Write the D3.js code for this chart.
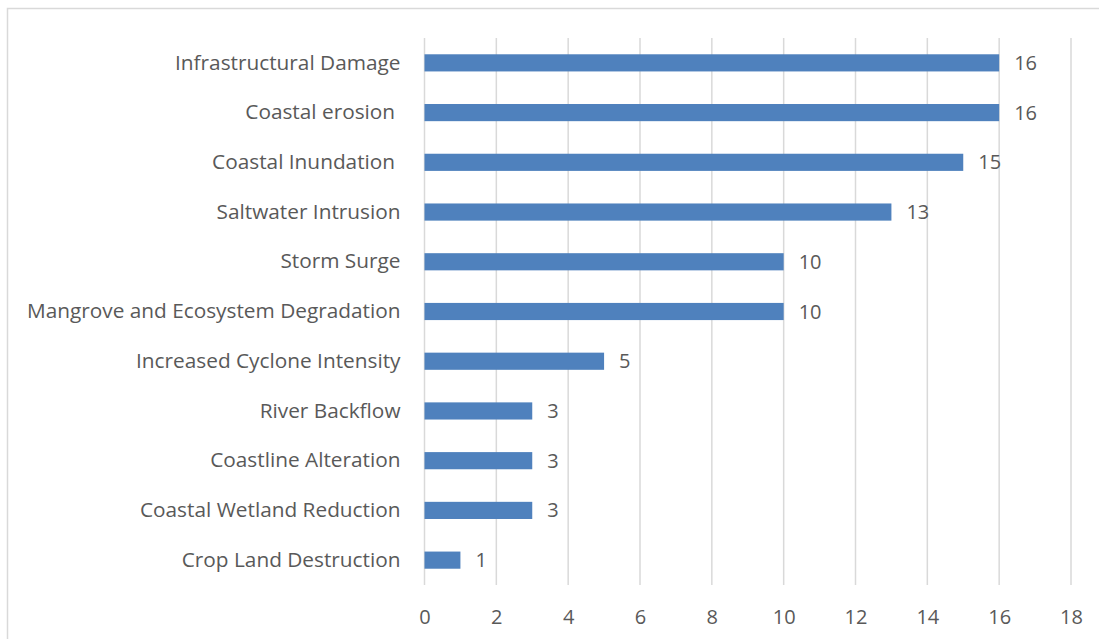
<!DOCTYPE html>
<html>
<head>
<meta charset="utf-8">
<script src="https://cdn.jsdelivr.net/npm/d3@7"></script>
<style>
  html, body { margin: 0; padding: 0; background: #fff; }
  svg text { font-family: "Open Sans", "Noto Sans", sans-serif; fill: #595959; white-space: pre; }
</style>
</head>
<body>
<svg id="chart" width="1099" height="639"></svg>
<script>
// Coastal hazard impacts, counted per category (top to bottom)
const categories = [
  "Infrastructural Damage",
  "Coastal erosion ",
  "Coastal Inundation ",
  "Saltwater Intrusion",
  "Storm Surge",
  "Mangrove and Ecosystem Degradation",
  "Increased Cyclone Intensity",
  "River Backflow",
  "Coastline Alteration",
  "Coastal Wetland Reduction",
  "Crop Land Destruction"
];
const counts = [16, 16, 15, 13, 10, 10, 5, 3, 3, 3, 1];
const xTicks = [0, 2, 4, 6, 8, 10, 12, 14, 16, 18];

const svg = d3.select("#chart");

// outer chart frame (top and left edges visible)
svg.append("path")
  .attr("d", "M7.5,639 L7.5,8.5 L1099,8.5")
  .attr("fill", "none")
  .attr("stroke", "#d9d9d9")
  .attr("stroke-width", 1.5);

const plot = { left: 424.5, right: 1071, top: 38, bottom: 585 };

const x = d3.scaleLinear().domain([0, 18]).range([plot.left, plot.right]);
const y = d3.scaleBand().domain(categories).range([plot.top, plot.bottom]).paddingInner(0.655).paddingOuter(0.3275);

// vertical gridlines
svg.append("g").selectAll("line").data(xTicks).join("line")
  .attr("x1", d => x(d)).attr("x2", d => x(d))
  .attr("y1", plot.top).attr("y2", plot.bottom)
  .attr("stroke", "#d9d9d9").attr("stroke-width", 1.5);

// x tick labels
const xAxis = d3.axisBottom(x).tickValues(xTicks).tickSize(0).tickPadding(0);
const gx = svg.append("g").attr("transform", `translate(0,${plot.bottom})`).call(xAxis);
gx.select(".domain").remove();
gx.selectAll("text")
  .attr("dy", null)
  .attr("y", 39)
  .attr("font-size", 20)
  .style("font-family", "\"Open Sans\", sans-serif")
  .attr("fill", "#595959");

// category labels
const yAxis = d3.axisLeft(y).tickSize(0).tickPadding(24);
const gy = svg.append("g").attr("transform", `translate(${plot.left},0)`).call(yAxis);
gy.select(".domain").remove();
gy.selectAll("text")
  .attr("font-size", 20.8)
  .style("font-family", "\"Open Sans\", sans-serif")
  .attr("fill", "#595959")
  .attr("xml:space", "preserve");

// bars
svg.append("g").selectAll("rect").data(categories).join("rect")
  .attr("x", x(0))
  .attr("y", d => y(d))
  .attr("width", (d, i) => x(counts[i]) - x(0))
  .attr("height", y.bandwidth())
  .attr("fill", "#4F81BD");

// value labels
svg.append("g").selectAll("text").data(categories).join("text")
  .attr("x", (d, i) => x(counts[i]) + 15)
  .attr("y", d => y(d) + y.bandwidth() / 2)
  .attr("dy", "0.35em")
  .attr("font-size", 20)
  .text((d, i) => counts[i]);
</script>
</body>
</html>
